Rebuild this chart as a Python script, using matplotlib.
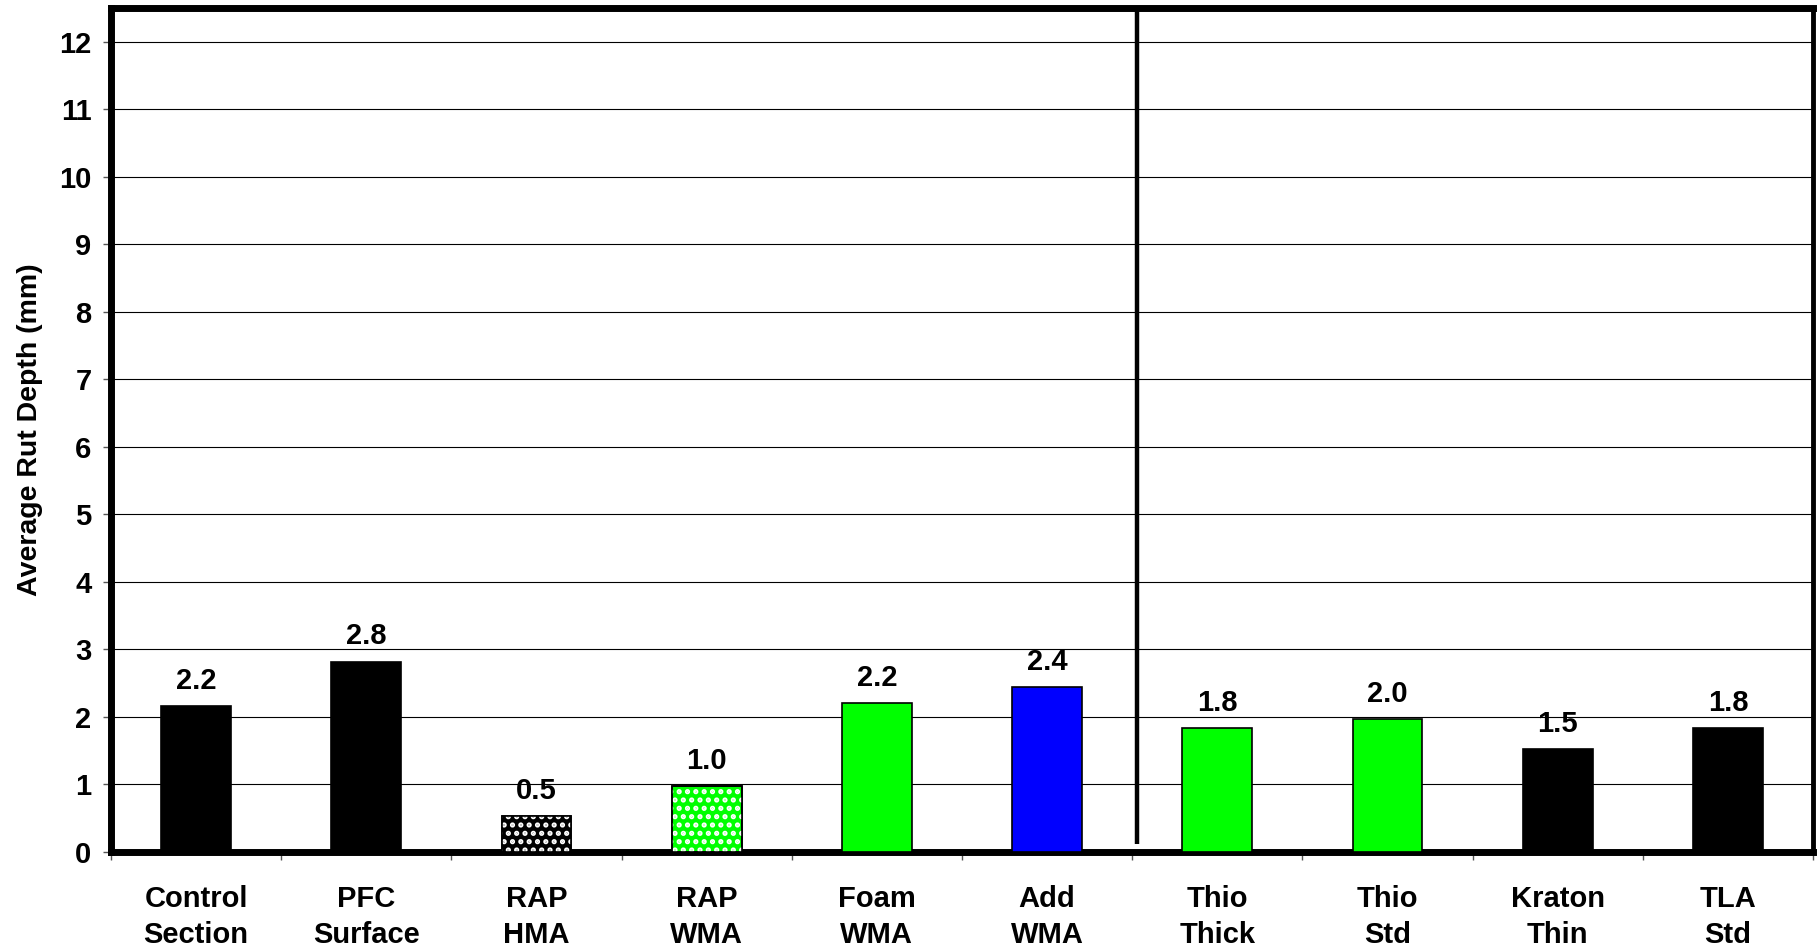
import numpy as np
import matplotlib
matplotlib.use('Agg')
import matplotlib.pyplot as plt

plt.rcParams['font.family'] = ['Liberation Sans', 'DejaVu Sans']
plt.rcParams['font.weight'] = 'bold'
plt.rcParams['hatch.linewidth'] = 2.5

# data
labels = ['Control\nSection', 'PFC\nSurface', 'RAP\nHMA', 'RAP\nWMA', 'Foam\nWMA',
          'Add\nWMA', 'Thio\nThick', 'Thio\nStd', 'Kraton\nThin', 'TLA\nStd']
rut_depth = [2.16, 2.82, 0.53, 0.98, 2.20, 2.44, 1.84, 1.97, 1.53, 1.84]
bar_colors = ['black', 'black', 'black', '#00ff00', '#00ff00',
              '#0000ff', '#00ff00', '#00ff00', 'black', 'black']
patterned = [False, False, True, True, False, False, False, False, False, False]

fig = plt.figure(figsize=(18.18, 9.47), dpi=100)
ax = fig.add_axes([111 / 1818, 1 - 852 / 947, (1813 - 111) / 1818, (852 - 8) / 947])

x = np.arange(len(labels))
ax.bar(x, rut_depth, width=0.41, color=bar_colors, edgecolor='black', linewidth=1.2, zorder=3)

# dotted fill for the RAP bars
for xi, v, p in zip(x, rut_depth, patterned):
    if p:
        ax.bar(xi, v, width=0.41, facecolor='none', edgecolor='white',
               hatch='..', linewidth=0, zorder=4)
        ax.bar(xi, v, width=0.41, facecolor='none', edgecolor='black',
               linewidth=1.2, zorder=5)

for xi, v in zip(x, rut_depth):
    ax.annotate(f'{v:.1f}', (xi, v), xytext=(0, 8), textcoords='offset points',
                ha='center', va='bottom', fontsize=21, fontweight='bold')

ax.set_xlim(-0.5, len(labels) - 0.5)
ax.set_ylim(0, 12.5)
ax.set_yticks(range(0, 13))
ax.yaxis.grid(True, color='black', linewidth=0.8)
ax.set_axisbelow(True)

# divider between the two groups
ax.plot([5.53, 5.53], [0.12, 12.5], color='black', linewidth=3.2, zorder=6,
        solid_capstyle='butt')

ax.set_xticks(x)
ax.set_xticklabels(labels, fontsize=21, fontweight='bold', linespacing=1.35)
ax.tick_params(axis='x', which='major', length=0, pad=24)
ax.set_xticks(np.arange(-0.5, len(labels)), minor=True)
ax.tick_params(axis='x', which='minor', length=6, width=1, color='#555555', direction='out')
ax.tick_params(axis='y', labelsize=21, length=6, width=1, color='#555555', pad=8)
for t in ax.get_yticklabels():
    t.set_fontweight('bold')

for side in ['top', 'left', 'bottom']:
    ax.spines[side].set_linewidth(5)
ax.spines['right'].set_linewidth(3.5)

ax.set_ylabel('Average Rut Depth (mm)', fontsize=20.5, fontweight='bold', labelpad=12)

fig.savefig('out.png', dpi=100)
